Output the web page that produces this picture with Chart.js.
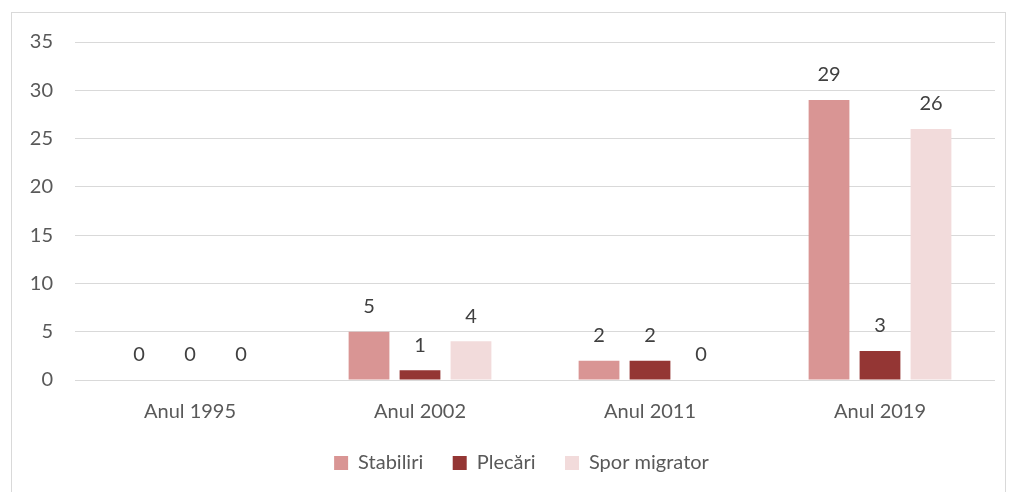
<!DOCTYPE html>
<html>
<head>
<meta charset="utf-8">
<script src="https://cdn.jsdelivr.net/npm/chart.js@4"></script>
<style>
  html, body { margin: 0; padding: 0; background: #fff; }
  #wrap { position: absolute; left: 0; top: 0; width: 1012px; height: 492px; }
  #frame { position: absolute; left: 11px; top: 12px; width: 993px; height: 500px; border: 1px solid #d9d9d9; }
</style>
</head>
<body>
<div id="frame"></div>
<div id="wrap"><canvas id="chart"></canvas></div>
<script>
var categories = ['Anul 1995', 'Anul 2002', 'Anul 2011', 'Anul 2019'];
var stabiliri = [0, 5, 2, 29];
var plecari = [0, 1, 2, 3];
var sporMigrator = [0, 4, 0, 26];

var fontFamily = 'Lato, "Liberation Sans", sans-serif';

// labels above each bar, like Excel data labels
var valueLabels = {
    id: 'valueLabels',
    afterLayout: function (chart) {
        // legend sits a bit right of the canvas centre in the original
        chart.legend.left += 14;
        chart.legend.right += 14;
    },
    afterDatasetsDraw: function (chart) {
        var ctx = chart.ctx;
        ctx.save();
        ctx.font = '20px ' + fontFamily;
        ctx.fillStyle = '#404040';
        ctx.textAlign = 'center';
        ctx.textBaseline = 'middle';
        chart.data.datasets.forEach(function (ds, i) {
            chart.getDatasetMeta(i).data.forEach(function (bar, j) {
                ctx.fillText(ds.data[j], bar.x, bar.y - 25);
            });
        });
        ctx.restore();
    }
};

new Chart(document.getElementById('chart'), {
    type: 'bar',
    data: {
        labels: categories,
        datasets: [
            { label: 'Stabiliri', data: stabiliri, backgroundColor: '#d99594' },
            { label: 'Plecări', data: plecari, backgroundColor: '#943634' },
            { label: 'Spor migrator', data: sporMigrator, backgroundColor: '#f2dbdb' }
        ]
    },
    options: {
        responsive: true,
        maintainAspectRatio: false,
        animation: false,
        categoryPercentage: 0.665,
        barPercentage: 0.8,
        layout: { padding: { left: 20, right: 17, top: 42, bottom: 9 } },
        plugins: {
            legend: {
                position: 'bottom',
                labels: {
                    boxWidth: 14,
                    boxHeight: 14,
                    padding: 9,
                    color: '#595959',
                    font: { family: fontFamily, size: 20 },
                    generateLabels: function (chart) {
                        var items = Chart.defaults.plugins.legend.labels.generateLabels(chart);
                        // extra gap between items without a taller legend
                        items.forEach(function (it, i) {
                            if (i < items.length - 1) it.text = it.text + '    ';
                        });
                        return items;
                    }
                }
            },
            tooltip: { enabled: false }
        },
        scales: {
            x: {
                grid: { display: false, drawTicks: false },
                border: { display: false },
                ticks: {
                    color: '#595959',
                    padding: 20,
                    font: { family: fontFamily, size: 20 }
                }
            },
            y: {
                min: 0,
                max: 35,
                afterFit: function (scale) { scale.width = 55; },
                grid: { color: '#d9d9d9', drawTicks: false },
                border: { display: false },
                ticks: {
                    stepSize: 5,
                    color: '#595959',
                    padding: 22,
                    font: { family: fontFamily, size: 20 }
                }
            }
        }
    },
    plugins: [valueLabels]
});
</script>
</body>
</html>
